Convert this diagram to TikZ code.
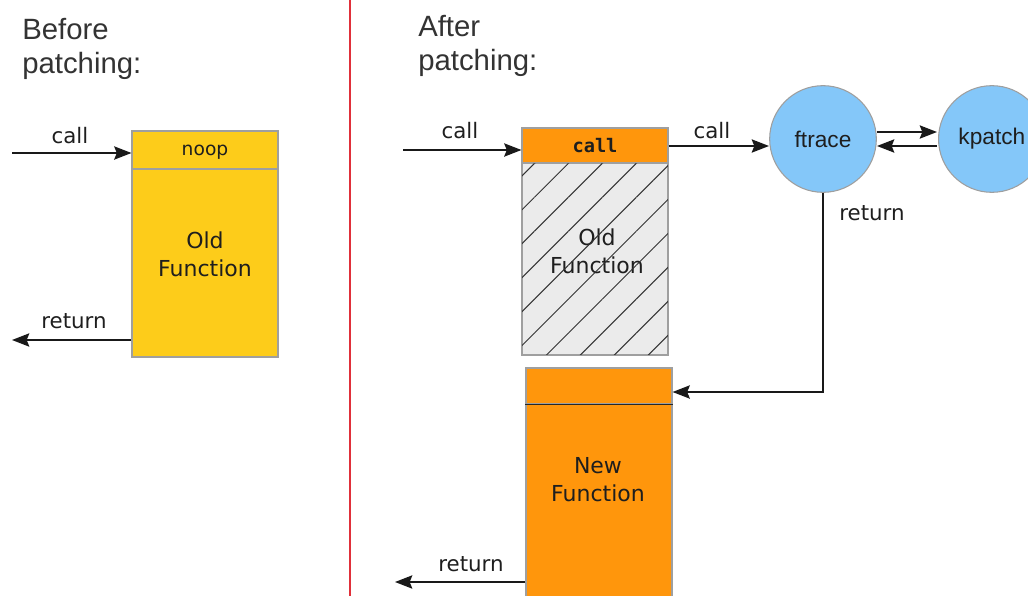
\documentclass[tikz,border=0pt]{standalone}
\usepackage{fontspec}
\setmainfont{DejaVu Sans}
\newfontfamily\libsans{Liberation Sans}
\newfontfamily\monofam{DejaVu Sans Mono}
\usetikzlibrary{arrows.meta,patterns.meta,calc}
\definecolor{boxyellow}{HTML}{FDCC1A}
\definecolor{boxorange}{HTML}{FF960C}
\definecolor{cblue}{HTML}{84C7F9}
\definecolor{hatchgray}{HTML}{EBEBEB}
\definecolor{divred}{HTML}{E0303A}
\definecolor{txt}{HTML}{1E1E1E}
\begin{document}
\begin{tikzpicture}[x=0.75pt,y=-0.75pt,
  arr/.style={draw=black!90, line width=1.1pt, -{Stealth[length=13pt,width=10pt,inset=2pt]}},
  block/.style={draw=gray!75, line width=0.8pt, inner sep=0pt, minimum width=109.5pt},
  lbl/.style={font=\fontsize{16}{19}\selectfont, text=txt, inner sep=0pt},
  boxtxt/.style={font=\fontsize{16.5}{21}\selectfont, align=center, text=txt, inner sep=0pt},
  title/.style={font=\libsans\fontsize{22}{25.5}\selectfont, align=left, text=black!80, anchor=north west, inner sep=0pt},
  circ/.style={circle, draw=gray!75, line width=0.8pt, fill=cblue, minimum size=80pt, inner sep=0pt, font=\libsans\fontsize{17}{20}\selectfont, text=txt}
]
\useasboundingbox (0,0) rectangle (1028,596);
\clip (0,0) rectangle (1028,596);

% divider
\draw[divred, line width=1.2pt] (350,0) -- (350,596);

% titles
\node[title] (tbefore) at (22,18) {Before\\patching:};
\node[title] (tafter) at (418,15) {After\\patching:};

% ---- before ----
\node[block, fill=boxyellow, minimum height=28.5pt] (noop) at (205,150) {};
\node[lbl, font=\fontsize{14}{16}\selectfont] (nooptxt) at (205,152) {noop};
\node[block, fill=boxyellow, minimum height=141pt] (oldL) at (205,263) {};
\node[boxtxt] (oldLtxt) at (205,254) {Old\\Function};
\coordinate (cinL) at (12,153);
\coordinate (retL) at (12,340);
\draw[arr] (cinL) -- (cinL -| noop.west);
\draw[arr] (retL -| oldL.west) -- (retL);
\node[lbl] (callL) at (70,136) {call};
\node[lbl] (returnL) at (74,321) {return};

% ---- after ----
\node[block, fill=boxorange, minimum height=26.25pt] (callbox) at (595,145.5) {};
\node[lbl, font=\monofam\bfseries\fontsize{14}{16}\selectfont] (callboxtxt) at (595,146) {call};
\node[block, fill=hatchgray, minimum height=144pt] (oldR) at (595,259) {};
\node[boxtxt] (oldRtxt) at (597,251) {Old\\Function};
\fill[pattern={Lines[angle=45,distance=18pt,line width=0.75pt]}, pattern color=black!80]
  (oldR.south west) rectangle (oldR.north east);
\draw[gray!75, line width=0.8pt] (oldR.south west) rectangle (oldR.north east);

\node[block, fill=boxorange, minimum height=27pt] (newtop) at (599,386) {};
\node[block, fill=boxorange, minimum height=147pt] (newbody) at (599,502) {};
\draw[black!85, line width=1pt] (newtop.south west) -- (newtop.south east);
\node[boxtxt] (newtxt) at (598,480) {New\\Function};

\node[circ] (ftrace) at (823,139) {ftrace};
\node[circ, anchor=west] (kpatch) at (938,139) {kpatch};

\coordinate (cinR) at (403,150);
\coordinate (fIn) at (769,146);
\coordinate (fkTopA) at (877,132);
\coordinate (fkTopB) at (937,132);
\coordinate (fkBotA) at (937,146);
\coordinate (fkBotB) at (877,146);
\draw[arr] (cinR) -- (cinR -| callbox.west);
\draw[arr] (callbox.east |- fIn) -- (fIn);
\draw[arr] (fkTopA) -- (fkTopB);
\draw[arr] (fkBotA) -- (fkBotB);
\draw[arr] (ftrace.south) |- ($(newtop.east)+(0,6)$);
\coordinate (retR) at (395,582);
\draw[arr] (retR -| newbody.west) -- (retR);

\node[lbl] (callR1) at (460,131) {call};
\node[lbl] (callR2) at (712,131) {call};
\node[lbl] (returnF) at (872,213) {return};
\node[lbl] (returnR) at (471,564) {return};
\end{tikzpicture}
\end{document}
